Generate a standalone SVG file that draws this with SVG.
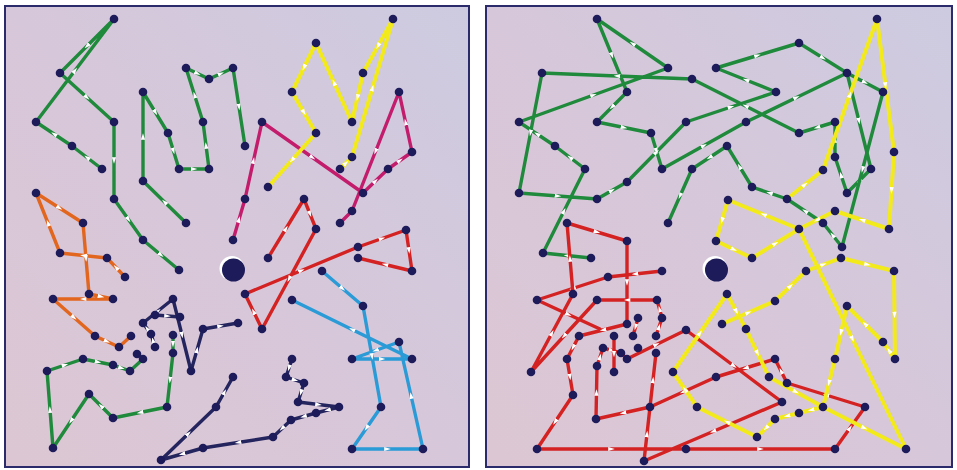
<svg xmlns="http://www.w3.org/2000/svg" width="957" height="470" viewBox="0 0 957 470">
<style>
.panel{stroke:#2b2a6b;stroke-width:2}
.rt{fill:none;stroke-width:3.4;stroke-linejoin:round;stroke-linecap:round;marker-mid:url(#ar)}
.g{stroke:#1f8a3b}
.o{stroke:#e2661e}
.m{stroke:#c41c6c}
.y{stroke:#f3ea1c;stroke-width:4}
.r{stroke:#d42222}
.c{stroke:#2a9bd6}
.n{stroke:#24245e}
.nd circle{fill:#1d1b5a}
</style>
<defs>
<linearGradient id="bg" x1="0" y1="1" x2="1" y2="0">
<stop offset="0" stop-color="#dcc6d3"/>
<stop offset="0.5" stop-color="#d7c7da"/>
<stop offset="1" stop-color="#cdcbe0"/>
</linearGradient>
<marker id="ar" viewBox="0 0 7 7" refX="3.5" refY="3.5" markerWidth="7" markerHeight="7" markerUnits="userSpaceOnUse" orient="auto">
<path d="M0.2,1.4 L6.8,3.5 L0.2,5.6 z" fill="#fff"/>
</marker>
</defs>
<rect width="957" height="470" fill="#fff"/>
<rect class="panel" x="5" y="6" width="464" height="461" fill="url(#bg)"/>
<rect class="panel" x="486" y="6" width="466" height="461" fill="url(#bg)"/>

<g id="connectors">
<!-- left panel -->
<polyline class="rt g" points="102,169 87,157.5 72,146 54,134 36,122 75,70.5 114,19 87,46 60,73 87,97.5 114,122 114,160.5 114,199 128.5,219.5 143,240 161,255 179,270"/>
<polyline class="rt g" points="186,223 164.5,202 143,181 143,136.5 143,92 155.5,112.5 168,133 173.5,151 179,169 194,169 209,169 206,145.5 203,122 194.5,95 186,68 197.5,73.5 209,79 221,73.5 233,68 239,107 245,146"/>
<polyline class="rt g" points="173,335 173,344 173,353 170,380 167,407 140,412.5 113,418 101,406 89,394 71,421 53,448 50,409.5 47,371 65,365 83,359 98,362 113,365 121.5,368 130,371 143,359"/>
<polyline class="rt o" points="125,277 116,267.5 107,258 83.5,255.5 60,253 48,223 36,193 59.5,208 83,223 86,258.5 89,294 101,296.5 113,299 83,299 53,299 74,317.5 95,336 107,341.5 119,347 131,336"/>
<polyline class="rt m" points="233,240 239,219.5 245,199 253.5,160.5 262,122 312.5,157.5 363,193 375.5,181 388,169 400,160.5 412,152 405.5,122 399,92 375.5,151.5 352,211 340,223"/>
<polyline class="rt y" points="340,169 346,163 352,157 372.5,88 393,19 378,46 363,73 357.5,97.5 352,122 334,82.5 316,43 304,67.5 292,92 304,112.5 316,133 292,160 268,187"/>
<polyline class="rt r" points="268,258 286,228.5 304,199 310,214 316,229 289,279 262,329 253.5,311.5 245,294 301.5,270.5 358,247 382,238.5 406,230 409,250.5 412,271 385,264.5 358,258"/>
<polyline class="rt c" points="322,271 342.5,288.5 363,306 372,356.5 381,407 366.5,428 352,449 387.5,449 423,449 411,395.5 399,342 375.5,350.5 352,359 382,359 412,359 352,329.5 292,300"/>
<polyline class="rt n" points="292,359 289,368 286,377 295,380 304,383 301,392.5 298,402 318.5,404.5 339,407 327.5,410 316,413 303.5,416.5 291,420 282,428.5 273,437 238,442.5 203,448 182,454 161,460 188.5,433.5 216,407 224.5,392 233,377"/>
<polyline class="rt n" points="155,347 153,340.5 151,334 147,328.5 143,323 158,311 173,299 182,335 191,371 197,350 203,329 220.5,326 238,323"/>
<polyline class="rt n" points="155,315 167.5,316 180,317"/>
<!-- right panel -->
<polyline class="rt g" points="591,258 567,255.5 543,253 564,211 585,169 570,157.5 555,146 537,134 519,122 593.5,95 668,68 632.5,43.5 597,19 612,55.5 627,92 612,107 597,122 624,127.5 651,133 656.5,151 662,169 704,145.5 746,122 796.5,97.5 847,73 859,121 871,169 859,181 847,193 841,175 835,157 835,139.5 835,122 817,127.5 799,133 745.5,106 692,79 617,76 542,73 530.5,133 519,193 558,196 597,199 612,190.5 627,182 656.5,152 686,122 731,107 776,92 746,80 716,68 757.5,55.5 799,43 823,58 847,73"/>
<polyline class="rt g" points="847,73 865,82.5 883,92 862.5,169.5 842,247 832.5,235 823,223 805,211 787,199 769.5,193 752,187 739.5,166.5 727,146 709.5,157.5 692,169 680,196 668,223"/>
<polyline class="rt r" points="662,271 635,274 608,277 572.5,288.5 537,300 568.5,314.5 600,329"/>
<polyline class="rt r" points="656,336 659,327 662,318 659.5,309 657,300 627,300 597,300 564,336 531,372 552,333 573,294 570,258.5 567,223 597,232 627,241 627,282.5 627,324 603,330 579,336 573,347.5 567,359 570,377 573,395 555,422 537,449 611.5,449 686,449 760.5,449 835,449 850,428 865,407 826,395 787,383 781,371 775,359 745.5,368 716,377 683,392 650,407 623,413 596,419 596.5,392.5 597,366 600,357 603,348 612,350.5 621,353 627,359 656.5,344.5 686,330 734,366 782,402 713,431.5 644,461 647,434 650,407 653,380 656,353"/>
<polyline class="rt r" points="638,318 635.5,327 633,336"/>
<polyline class="rt r" points="614,336 614,354 614,372"/>
<polyline class="rt y" points="787,199 805,184.5 823,170 850,94.5 877,19 885.5,85.5 894,152 891.5,190.5 889,229 862,220 835,211 817,220 799,229 763.5,214.5 728,200 722,220.5 716,241 734,249.5 752,258 775.5,243.5 799,229 852.5,339 906,449"/>
<polyline class="rt y" points="722,324 748.5,312.5 775,301 790.5,286 806,271 823.5,264.5 841,258 867.5,264.5 894,271 894.5,315 895,359 889,350.5 883,342 865,324 847,306 841,332.5 835,359 829,383 823,407 811,410 799,413 787,416 775,419 766,428 757,437 727,422 697,407 685,389.5 673,372 700,333 727,294 736.5,311.5 746,329 757.5,353 769,377 796,392 823,407 864.5,428 906,449"/>
</g>

<g id="nodes-left" class="nd">
<g id="route-green-1"><circle cx="102" cy="169" r="4.3"/><circle cx="72" cy="146" r="4.3"/><circle cx="36" cy="122" r="4.3"/><circle cx="114" cy="19" r="4.3"/><circle cx="60" cy="73" r="4.3"/><circle cx="114" cy="122" r="4.3"/><circle cx="114" cy="199" r="4.3"/><circle cx="143" cy="240" r="4.3"/><circle cx="179" cy="270" r="4.3"/></g>
<g id="route-green-2"><circle cx="186" cy="223" r="4.3"/><circle cx="143" cy="181" r="4.3"/><circle cx="143" cy="92" r="4.3"/><circle cx="168" cy="133" r="4.3"/><circle cx="179" cy="169" r="4.3"/><circle cx="209" cy="169" r="4.3"/><circle cx="203" cy="122" r="4.3"/><circle cx="186" cy="68" r="4.3"/><circle cx="209" cy="79" r="4.3"/><circle cx="233" cy="68" r="4.3"/><circle cx="245" cy="146" r="4.3"/></g>
<g id="route-green-3"><circle cx="173" cy="335" r="4.3"/><circle cx="173" cy="353" r="4.3"/><circle cx="167" cy="407" r="4.3"/><circle cx="113" cy="418" r="4.3"/><circle cx="89" cy="394" r="4.3"/><circle cx="53" cy="448" r="4.3"/><circle cx="47" cy="371" r="4.3"/><circle cx="83" cy="359" r="4.3"/><circle cx="113" cy="365" r="4.3"/><circle cx="130" cy="371" r="4.3"/></g>
<g id="route-orange"><circle cx="125" cy="277" r="4.3"/><circle cx="107" cy="258" r="4.3"/><circle cx="60" cy="253" r="4.3"/><circle cx="36" cy="193" r="4.3"/><circle cx="83" cy="223" r="4.3"/><circle cx="89" cy="294" r="4.3"/><circle cx="113" cy="299" r="4.3"/><circle cx="53" cy="299" r="4.3"/><circle cx="95" cy="336" r="4.3"/><circle cx="119" cy="347" r="4.3"/><circle cx="131" cy="336" r="4.3"/></g>
<g id="route-magenta"><circle cx="233" cy="240" r="4.3"/><circle cx="245" cy="199" r="4.3"/><circle cx="262" cy="122" r="4.3"/><circle cx="363" cy="193" r="4.3"/><circle cx="388" cy="169" r="4.3"/><circle cx="412" cy="152" r="4.3"/><circle cx="399" cy="92" r="4.3"/><circle cx="352" cy="211" r="4.3"/><circle cx="340" cy="223" r="4.3"/></g>
<g id="route-yellow-left"><circle cx="340" cy="169" r="4.3"/><circle cx="352" cy="157" r="4.3"/><circle cx="393" cy="19" r="4.3"/><circle cx="363" cy="73" r="4.3"/><circle cx="352" cy="122" r="4.3"/><circle cx="316" cy="43" r="4.3"/><circle cx="292" cy="92" r="4.3"/><circle cx="316" cy="133" r="4.3"/><circle cx="268" cy="187" r="4.3"/></g>
<g id="route-red-left"><circle cx="268" cy="258" r="4.3"/><circle cx="304" cy="199" r="4.3"/><circle cx="316" cy="229" r="4.3"/><circle cx="262" cy="329" r="4.3"/><circle cx="245" cy="294" r="4.3"/><circle cx="358" cy="247" r="4.3"/><circle cx="406" cy="230" r="4.3"/><circle cx="412" cy="271" r="4.3"/><circle cx="358" cy="258" r="4.3"/></g>
<g id="route-cyan"><circle cx="322" cy="271" r="4.3"/><circle cx="363" cy="306" r="4.3"/><circle cx="381" cy="407" r="4.3"/><circle cx="352" cy="449" r="4.3"/><circle cx="423" cy="449" r="4.3"/><circle cx="399" cy="342" r="4.3"/><circle cx="352" cy="359" r="4.3"/><circle cx="412" cy="359" r="4.3"/><circle cx="292" cy="300" r="4.3"/></g>
<g id="route-navy-1"><circle cx="292" cy="359" r="4.3"/><circle cx="286" cy="377" r="4.3"/><circle cx="304" cy="383" r="4.3"/><circle cx="298" cy="402" r="4.3"/><circle cx="339" cy="407" r="4.3"/><circle cx="316" cy="413" r="4.3"/><circle cx="291" cy="420" r="4.3"/><circle cx="273" cy="437" r="4.3"/><circle cx="203" cy="448" r="4.3"/><circle cx="161" cy="460" r="4.3"/><circle cx="216" cy="407" r="4.3"/><circle cx="233" cy="377" r="4.3"/></g>
<g id="route-navy-2"><circle cx="155" cy="347" r="4.3"/><circle cx="151" cy="334" r="4.3"/><circle cx="143" cy="323" r="4.3"/><circle cx="173" cy="299" r="4.3"/><circle cx="191" cy="371" r="4.3"/><circle cx="203" cy="329" r="4.3"/><circle cx="238" cy="323" r="4.3"/><circle cx="155" cy="315" r="4.3"/><circle cx="180" cy="317" r="4.3"/><circle cx="137" cy="354" r="4.3"/><circle cx="143" cy="359" r="4.3"/></g>
</g>

<g id="nodes-right" class="nd">
<g id="route-green-right"><circle cx="597" cy="19" r="4.3"/><circle cx="668" cy="68" r="4.3"/><circle cx="542" cy="73" r="4.3"/><circle cx="692" cy="79" r="4.3"/><circle cx="627" cy="92" r="4.3"/><circle cx="519" cy="122" r="4.3"/><circle cx="597" cy="122" r="4.3"/><circle cx="686" cy="122" r="4.3"/><circle cx="555" cy="146" r="4.3"/><circle cx="651" cy="133" r="4.3"/><circle cx="585" cy="169" r="4.3"/><circle cx="662" cy="169" r="4.3"/><circle cx="692" cy="169" r="4.3"/><circle cx="627" cy="182" r="4.3"/><circle cx="519" cy="193" r="4.3"/><circle cx="597" cy="199" r="4.3"/><circle cx="668" cy="223" r="4.3"/><circle cx="716" cy="68" r="4.3"/><circle cx="543" cy="253" r="4.3"/><circle cx="591" cy="258" r="4.3"/><circle cx="799" cy="43" r="4.3"/><circle cx="776" cy="92" r="4.3"/><circle cx="847" cy="73" r="4.3"/><circle cx="883" cy="92" r="4.3"/><circle cx="746" cy="122" r="4.3"/><circle cx="799" cy="133" r="4.3"/><circle cx="835" cy="122" r="4.3"/><circle cx="835" cy="157" r="4.3"/><circle cx="727" cy="146" r="4.3"/><circle cx="752" cy="187" r="4.3"/><circle cx="871" cy="169" r="4.3"/><circle cx="847" cy="193" r="4.3"/><circle cx="823" cy="223" r="4.3"/><circle cx="787" cy="199" r="4.3"/><circle cx="842" cy="247" r="4.3"/></g>
<g id="route-red-right"><circle cx="567" cy="223" r="4.3"/><circle cx="627" cy="241" r="4.3"/><circle cx="608" cy="277" r="4.3"/><circle cx="662" cy="271" r="4.3"/><circle cx="537" cy="300" r="4.3"/><circle cx="573" cy="294" r="4.3"/><circle cx="597" cy="300" r="4.3"/><circle cx="657" cy="300" r="4.3"/><circle cx="627" cy="324" r="4.3"/><circle cx="638" cy="318" r="4.3"/><circle cx="662" cy="318" r="4.3"/><circle cx="579" cy="336" r="4.3"/><circle cx="614" cy="336" r="4.3"/><circle cx="633" cy="336" r="4.3"/><circle cx="656" cy="336" r="4.3"/><circle cx="686" cy="330" r="4.3"/><circle cx="603" cy="348" r="4.3"/><circle cx="638" cy="348" r="4.3"/><circle cx="621" cy="353" r="4.3"/><circle cx="627" cy="359" r="4.3"/><circle cx="656" cy="353" r="4.3"/><circle cx="567" cy="359" r="4.3"/><circle cx="597" cy="366" r="4.3"/><circle cx="614" cy="372" r="4.3"/><circle cx="531" cy="372" r="4.3"/><circle cx="573" cy="395" r="4.3"/><circle cx="650" cy="407" r="4.3"/><circle cx="596" cy="419" r="4.3"/><circle cx="537" cy="449" r="4.3"/><circle cx="644" cy="461" r="4.3"/><circle cx="686" cy="449" r="4.3"/><circle cx="716" cy="377" r="4.3"/><circle cx="775" cy="359" r="4.3"/><circle cx="787" cy="383" r="4.3"/><circle cx="782" cy="402" r="4.3"/><circle cx="865" cy="407" r="4.3"/><circle cx="835" cy="449" r="4.3"/></g>
<g id="route-yellow-right"><circle cx="823" cy="170" r="4.3"/><circle cx="877" cy="19" r="4.3"/><circle cx="894" cy="152" r="4.3"/><circle cx="889" cy="229" r="4.3"/><circle cx="835" cy="211" r="4.3"/><circle cx="799" cy="229" r="4.3"/><circle cx="728" cy="200" r="4.3"/><circle cx="716" cy="241" r="4.3"/><circle cx="752" cy="258" r="4.3"/><circle cx="906" cy="449" r="4.3"/><circle cx="722" cy="324" r="4.3"/><circle cx="775" cy="301" r="4.3"/><circle cx="806" cy="271" r="4.3"/><circle cx="841" cy="258" r="4.3"/><circle cx="894" cy="271" r="4.3"/><circle cx="895" cy="359" r="4.3"/><circle cx="883" cy="342" r="4.3"/><circle cx="847" cy="306" r="4.3"/><circle cx="835" cy="359" r="4.3"/><circle cx="823" cy="407" r="4.3"/><circle cx="799" cy="413" r="4.3"/><circle cx="775" cy="419" r="4.3"/><circle cx="757" cy="437" r="4.3"/><circle cx="697" cy="407" r="4.3"/><circle cx="673" cy="372" r="4.3"/><circle cx="727" cy="294" r="4.3"/><circle cx="746" cy="329" r="4.3"/><circle cx="769" cy="377" r="4.3"/></g>
</g>

<g id="depot-left"><circle cx="232" cy="268.5" r="12.5" fill="#fff"/><circle cx="233.5" cy="270" r="11.5" fill="#1d1b5a"/></g>
<g id="depot-right"><circle cx="715" cy="268.5" r="12.5" fill="#fff"/><circle cx="716.5" cy="270" r="11.5" fill="#1d1b5a"/></g>
</svg>
